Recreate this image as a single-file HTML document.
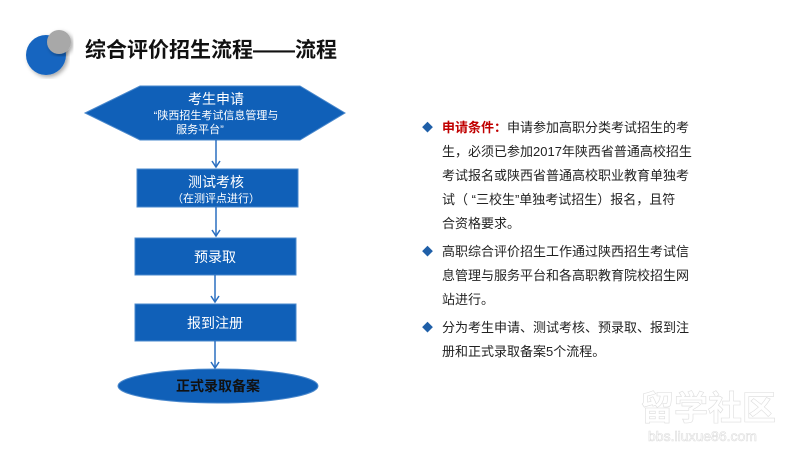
<!DOCTYPE html>
<html><head><meta charset="utf-8"><style>
body{margin:0;width:800px;height:450px;background:#fff;position:relative;overflow:hidden;font-family:"Liberation Sans","Noto Sans CJK SC",sans-serif}
.t{position:absolute;left:85px;top:34px;font-size:21px;font-weight:bold;color:#111;white-space:nowrap}
.r{position:absolute;left:422px;top:116px;width:300px;font-size:13px;line-height:24px;color:#222;white-space:nowrap}
.r p{margin:0 0 4px 0;padding-left:20px;position:relative}
.r p:before{content:"◆";position:absolute;left:0;top:0;color:#1f5fa8;font-size:11px}
.b{color:#c00000;font-weight:bold}
</style></head><body>
<svg width="800" height="450" style="position:absolute;left:0;top:0">
<defs><filter id="s"><feDropShadow dx="2" dy="2" stdDeviation="2" flood-opacity="0.35"/></filter></defs>
<circle cx="46" cy="55" r="20" fill="#1565c0" filter="url(#s)"/>
<circle cx="59" cy="42" r="12" fill="#a8a8a8" filter="url(#s)"/>
<g fill="#1060b8" stroke="#4a88cc" stroke-width="1">
<polygon points="85,113 140,86 300,86 345,113 300,140 140,140"/>
<rect x="137" y="169" width="161" height="38"/>
<rect x="135" y="238" width="161" height="37"/>
<rect x="135" y="304" width="161" height="37"/>
<ellipse cx="218" cy="386" rx="100" ry="17"/>
</g>
<g stroke="#2a6fc0" stroke-width="1.5" fill="none">
<line x1="216" y1="140" x2="216" y2="166"/><line x1="216" y1="207" x2="216" y2="235"/>
<line x1="215" y1="275" x2="215" y2="301"/><line x1="215" y1="341" x2="215" y2="367"/>
<polyline points="212,161 216,167 220,161"/><polyline points="212,230 216,236 220,230"/>
<polyline points="211,296 215,302 219,296"/><polyline points="211,362 215,368 219,362"/>
</g>
<g fill="#fff" text-anchor="middle" font-family="Liberation Sans,Noto Sans CJK SC,sans-serif">
<text x="216" y="104" font-size="14">考生申请</text>
<text x="216" y="119" font-size="11">“陕西招生考试信息管理与</text>
<text x="200" y="133" font-size="11">服务平台”</text>
<text x="216" y="187" font-size="14">测试考核</text>
<text x="216" y="202" font-size="11">（在测评点进行）</text>
<text x="215" y="262" font-size="14">预录取</text>
<text x="215" y="328" font-size="14">报到注册</text>
<text x="218" y="391" font-size="14" fill="#111" font-weight="bold">正式录取备案</text>
</g>
<g fill="#fff" stroke="#ddd" stroke-width="0.6" font-family="Liberation Sans,Noto Sans CJK SC,sans-serif">
<text x="640" y="420" font-size="34" font-weight="bold">留学社区</text>
<text x="648" y="441" font-size="14">bbs.liuxue86.com</text>
</g>
</svg>
<div class="t">综合评价招生流程——流程</div>
<div class="r">
<p><span class="b">申请条件：</span>申请参加高职分类考试招生的考<br>生，必须已参加2017年陕西省普通高校招生<br>考试报名或陕西省普通高校职业教育单独考<br>试（ “三校生”单独考试招生）报名，且符<br>合资格要求。</p>
<p>高职综合评价招生工作通过陕西招生考试信<br>息管理与服务平台和各高职教育院校招生网<br>站进行。</p>
<p>分为考生申请、测试考核、预录取、报到注<br>册和正式录取备案5个流程。</p>
</div>
</body></html>
